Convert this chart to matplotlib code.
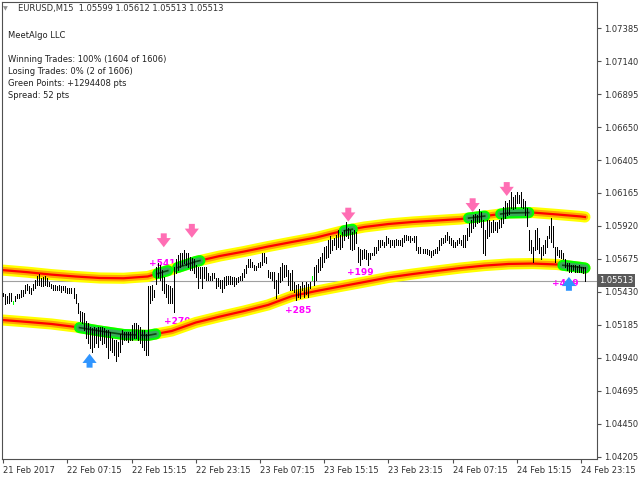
import numpy as np
import matplotlib
matplotlib.use("Agg")
import matplotlib.pyplot as plt
from matplotlib.transforms import blended_transform_factory

plt.rcParams["font.family"] = ["DejaVu Sans"]

# EURUSD M15 bars, 21 Feb 23:15 .. 24 Feb 23:45 (high / low)
highs = [
    1.0542, 1.0541, 1.0540, 1.0542, 1.0542, 1.0536, 1.0540, 1.0541, 1.0541, 1.0544,
    1.0544, 1.0548, 1.0549, 1.0547, 1.0546, 1.0549, 1.0552, 1.0555, 1.0556, 1.0553,
    1.0554, 1.0555, 1.0553, 1.0550, 1.0549, 1.0548, 1.0548, 1.0547, 1.0548, 1.0547,
    1.0547, 1.0547, 1.0546, 1.0546, 1.0546, 1.0546, 1.0541, 1.0535, 1.0529, 1.0528,
    1.0527, 1.0521, 1.0520, 1.0517, 1.0516, 1.0517, 1.0516, 1.0517, 1.0517, 1.0517,
    1.0516, 1.0515, 1.0515, 1.0513, 1.0509, 1.0507, 1.0507, 1.0506, 1.0512, 1.0515,
    1.0513, 1.0513, 1.0513, 1.0513, 1.0518, 1.0520, 1.0520, 1.0518, 1.0517, 1.0515,
    1.0515, 1.0512, 1.0547, 1.0547, 1.0548, 1.0544, 1.0561, 1.0564, 1.0563, 1.0559,
    1.0554, 1.0549, 1.0548, 1.0547, 1.0546, 1.0561, 1.0567, 1.0570, 1.0572, 1.0572,
    1.0574, 1.0572, 1.0572, 1.0569, 1.0568, 1.0567, 1.0563, 1.0561, 1.0561, 1.0561,
    1.0561, 1.0561, 1.0557, 1.0555, 1.0557, 1.0557, 1.0553, 1.0553, 1.0552, 1.0552,
    1.0554, 1.0555, 1.0555, 1.0555, 1.0554, 1.0554, 1.0553, 1.0554, 1.0555, 1.0557,
    1.0560, 1.0563, 1.0567, 1.0567, 1.0565, 1.0563, 1.0562, 1.0564, 1.0565, 1.0572,
    1.0572, 1.0569, 1.0559, 1.0558, 1.0558, 1.0558, 1.0552, 1.0557, 1.0561, 1.0564,
    1.0563, 1.0563, 1.0559, 1.0557, 1.0559, 1.0550, 1.0548, 1.0549, 1.0547, 1.0550,
    1.0548, 1.0550, 1.0549, 1.0550, 1.0555, 1.0561, 1.0563, 1.0567, 1.0569, 1.0572,
    1.0576, 1.0577, 1.0581, 1.0584, 1.0581, 1.0583, 1.0585, 1.0589, 1.0585, 1.0587,
    1.0589, 1.0595, 1.0590, 1.0589, 1.0587, 1.0589, 1.0587, 1.0576, 1.0575, 1.0574,
    1.0575, 1.0574, 1.0572, 1.0572, 1.0572, 1.0576, 1.0576, 1.0581, 1.0581, 1.0581,
    1.0580, 1.0584, 1.0583, 1.0581, 1.0581, 1.0581, 1.0582, 1.0581, 1.0581, 1.0583,
    1.0585, 1.0585, 1.0584, 1.0584, 1.0583, 1.0584, 1.0584, 1.0576, 1.0576, 1.0575,
    1.0575, 1.0575, 1.0574, 1.0573, 1.0574, 1.0575, 1.0576, 1.0581, 1.0583, 1.0583,
    1.0585, 1.0587, 1.0584, 1.0583, 1.0581, 1.0580, 1.0581, 1.0583, 1.0581, 1.0585,
    1.0585, 1.0590, 1.0594, 1.0596, 1.0600, 1.0601, 1.0600, 1.0604, 1.0602, 1.0596,
    1.0589, 1.0596, 1.0596, 1.0595, 1.0596, 1.0595, 1.0595, 1.0596, 1.0598, 1.0606,
    1.0610, 1.0609, 1.0611, 1.0617, 1.0613, 1.0615, 1.0617, 1.0615, 1.0617, 1.0612,
    1.0610, 1.0605, 1.0589, 1.0581, 1.0576, 1.0589, 1.0590, 1.0583, 1.0576, 1.0578,
    1.0581, 1.0584, 1.0592, 1.0598, 1.0592, 1.0576, 1.0576, 1.0574, 1.0574, 1.0572,
    1.0567, 1.0564, 1.0564, 1.0563, 1.0563, 1.0563, 1.0562, 1.0563, 1.0561, 1.0561,
    1.0561,
]
lows = [
    1.0540, 1.0534, 1.0535, 1.0535, 1.0536, 1.0534, 1.0536, 1.0538, 1.0538, 1.0539,
    1.0540, 1.0542, 1.0544, 1.0542, 1.0541, 1.0544, 1.0546, 1.0548, 1.0548, 1.0547,
    1.0547, 1.0548, 1.0547, 1.0547, 1.0546, 1.0544, 1.0544, 1.0544, 1.0544, 1.0543,
    1.0544, 1.0543, 1.0542, 1.0542, 1.0542, 1.0538, 1.0535, 1.0527, 1.0521, 1.0520,
    1.0515, 1.0509, 1.0505, 1.0501, 1.0498, 1.0502, 1.0505, 1.0502, 1.0507, 1.0504,
    1.0505, 1.0502, 1.0494, 1.0500, 1.0498, 1.0496, 1.0492, 1.0495, 1.0498, 1.0504,
    1.0507, 1.0507, 1.0506, 1.0507, 1.0507, 1.0509, 1.0509, 1.0507, 1.0505, 1.0502,
    1.0500, 1.0496, 1.0496, 1.0535, 1.0537, 1.0539, 1.0549, 1.0554, 1.0552, 1.0544,
    1.0542, 1.0539, 1.0535, 1.0535, 1.0535, 1.0528, 1.0557, 1.0559, 1.0561, 1.0563,
    1.0564, 1.0563, 1.0561, 1.0559, 1.0559, 1.0557, 1.0554, 1.0546, 1.0553, 1.0546,
    1.0553, 1.0552, 1.0552, 1.0552, 1.0552, 1.0553, 1.0546, 1.0547, 1.0546, 1.0543,
    1.0546, 1.0548, 1.0549, 1.0549, 1.0549, 1.0547, 1.0549, 1.0550, 1.0552, 1.0552,
    1.0554, 1.0557, 1.0561, 1.0561, 1.0561, 1.0559, 1.0559, 1.0561, 1.0561, 1.0563,
    1.0565, 1.0564, 1.0554, 1.0553, 1.0552, 1.0546, 1.0538, 1.0542, 1.0550, 1.0552,
    1.0554, 1.0555, 1.0548, 1.0544, 1.0544, 1.0543, 1.0537, 1.0539, 1.0538, 1.0544,
    1.0539, 1.0541, 1.0539, 1.0546, 1.0552, 1.0548, 1.0552, 1.0558, 1.0559, 1.0561,
    1.0565, 1.0568, 1.0569, 1.0572, 1.0574, 1.0578, 1.0575, 1.0576, 1.0575, 1.0576,
    1.0581, 1.0584, 1.0583, 1.0575, 1.0574, 1.0575, 1.0579, 1.0565, 1.0563, 1.0567,
    1.0568, 1.0567, 1.0563, 1.0567, 1.0570, 1.0570, 1.0572, 1.0574, 1.0576, 1.0578,
    1.0576, 1.0578, 1.0579, 1.0576, 1.0578, 1.0576, 1.0578, 1.0578, 1.0578, 1.0577,
    1.0580, 1.0581, 1.0581, 1.0580, 1.0581, 1.0580, 1.0574, 1.0572, 1.0572, 1.0572,
    1.0572, 1.0571, 1.0570, 1.0569, 1.0570, 1.0572, 1.0572, 1.0574, 1.0578, 1.0579,
    1.0580, 1.0581, 1.0579, 1.0578, 1.0576, 1.0576, 1.0578, 1.0579, 1.0578, 1.0576,
    1.0576, 1.0581, 1.0584, 1.0587, 1.0590, 1.0592, 1.0594, 1.0595, 1.0591, 1.0572,
    1.0570, 1.0583, 1.0584, 1.0587, 1.0587, 1.0589, 1.0587, 1.0590, 1.0591, 1.0594,
    1.0598, 1.0600, 1.0601, 1.0605, 1.0604, 1.0605, 1.0609, 1.0609, 1.0606, 1.0605,
    1.0600, 1.0592, 1.0574, 1.0572, 1.0565, 1.0574, 1.0575, 1.0572, 1.0567, 1.0570,
    1.0572, 1.0576, 1.0583, 1.0580, 1.0576, 1.0565, 1.0570, 1.0569, 1.0568, 1.0567,
    1.0561, 1.0559, 1.0558, 1.0558, 1.0559, 1.0558, 1.0558, 1.0558, 1.0558, 1.0557,
    1.0551,
]
green_bars = [5, 154]

# channel bands, sampled every 12 bars
band_idx = [0, 12, 24, 36, 48, 60, 72, 84, 96, 108, 120, 132, 144, 156, 168,
            180, 192, 204, 216, 228, 240, 252, 264, 276, 288, 290]
upper_band = [1.05590, 1.05575, 1.05557, 1.05543, 1.05532, 1.05530, 1.05543, 1.05595,
              1.05654, 1.05695, 1.05728, 1.05765, 1.05799, 1.05832, 1.05877, 1.05910,
              1.05932, 1.05947, 1.05958, 1.05969, 1.05991, 1.06014, 1.06017, 1.06003,
              1.05988, 1.05984]
lower_band = [1.05220, 1.05206, 1.05191, 1.05169, 1.05139, 1.05113, 1.05106, 1.05139,
              1.05202, 1.05246, 1.05287, 1.05332, 1.05398, 1.05435, 1.05469, 1.05502,
              1.05536, 1.05561, 1.05584, 1.05606, 1.05624, 1.05636, 1.05639, 1.05632,
              1.05610, 1.05606]
# bar ranges where price touched the band
upper_touch = [(77, 82), (87, 98), (170, 174), (232, 240), (248, 262)]
lower_touch = [(38, 67), (69, 76), (279, 290)]

sell_idx = [80, 94, 172, 234, 251]
sell_price = [1.0576, 1.0583, 1.0595, 1.0602, 1.0614]
buy_idx = [43, 282]
buy_price = [1.0497, 1.0554]

profit_text = ["+541", "+279", "+285", "+199", "+419"]
profit_idx = [79, 87, 147, 178, 280]
profit_price = [1.0564, 1.0521, 1.0529, 1.0557, 1.0549]

last_price = 1.05513
price_ticks = [1.07385, 1.07140, 1.06895, 1.06650, 1.06405, 1.06165, 1.05920,
               1.05675, 1.05430, 1.05185, 1.04940, 1.04695, 1.04450, 1.04205]
time_idx = [0, 32, 64, 96, 128, 160, 192, 224, 256, 288]
time_labels = ["21 Feb 2017", "22 Feb 07:15", "22 Feb 15:15", "22 Feb 23:15",
               "23 Feb 07:15", "23 Feb 15:15", "23 Feb 23:15", "24 Feb 07:15",
               "24 Feb 15:15", "24 Feb 23:15"]

fig = plt.figure(figsize=(6.4, 4.8), dpi=100)
ax = fig.add_axes([2 / 640, 21 / 480, 595 / 640, 457 / 480])
ax.set_xlim(-0.65, 296)
ax.set_ylim(1.04190, 1.07578)

x = np.arange(len(highs))
bar_colors = ["#00ff00" if i in green_bars else "black" for i in x]
ax.vlines(x, lows, highs, colors=bar_colors, lw=0.5, antialiased=False, zorder=4)

for band in (upper_band, lower_band):
    ax.plot(band_idx, band, color="#ffff00", lw=8.0, solid_capstyle="round", zorder=2)
    ax.plot(band_idx, band, color="#ffa500", lw=4.6, solid_capstyle="round", zorder=2)
    ax.plot(band_idx, band, color="#ff0000", lw=1.6, zorder=2)

for band, touches in ((upper_band, upper_touch), (lower_band, lower_touch)):
    for a, b in touches:
        xs = np.arange(a, b + 1)
        ys = np.interp(xs, band_idx, band)
        ax.plot(xs, ys, color="#00ff00", lw=8.0, solid_capstyle="round", zorder=3)
        ax.plot(xs, ys, color="#3aa85a", lw=4.8, solid_capstyle="round", zorder=3)
        ax.plot(xs, ys, color="#0b4a12", lw=1.2, zorder=3)

ax.axhline(last_price, color="#a0a0a0", lw=0.8, zorder=1)

arrow_style = "simple,head_length=0.55,head_width=0.85,tail_width=0.36"
for i, p in zip(sell_idx, sell_price):
    ax.annotate("", xy=(i, p), xytext=(0, 10), textcoords="offset points",
                arrowprops=dict(arrowstyle=arrow_style, mutation_scale=12,
                                color="#ff6eb4", lw=0, shrinkA=0, shrinkB=0), zorder=5)
for i, p in zip(buy_idx, buy_price):
    ax.annotate("", xy=(i, p), xytext=(0, -10), textcoords="offset points",
                arrowprops=dict(arrowstyle=arrow_style, mutation_scale=12,
                                color="#2f95ff", lw=0, shrinkA=0, shrinkB=0), zorder=5)

for t, i, p in zip(profit_text, profit_idx, profit_price):
    ax.text(i, p, t, color="#ff00ff", fontsize=6.5, fontweight="bold",
            ha="center", va="center", zorder=1)

# axes styling
for s in ax.spines.values():
    s.set_color("#505050")
    s.set_linewidth(0.8)
ax.yaxis.tick_right()
ax.set_yticks(price_ticks)
ax.set_yticklabels([f"{v:.5f}" for v in price_ticks])
ax.set_xticks(time_idx)
ax.set_xticklabels(time_labels, ha="left")
ax.tick_params(axis="both", direction="out", length=3, width=0.8, color="#505050",
               labelsize=6, labelcolor="#303030", pad=2)

trans = blended_transform_factory(ax.transAxes, ax.transData)
ax.text(1.003, last_price, f"{last_price:.5f}", transform=trans, color="white",
        fontsize=6, ha="left", va="center", zorder=6,
        bbox=dict(facecolor="#5a5a5a", edgecolor="none", pad=1.6))

# header text
fig.text(3 / 640, 1 - 9 / 480, "\u25bc", color="#909090", fontsize=4.5, va="center")
fig.text(18 / 640, 1 - 9 / 480, "EURUSD,M15  1.05599 1.05612 1.05513 1.05513",
         color="#303030", fontsize=6, va="center")
info = ["MeetAlgo LLC", "", "Winning Trades: 100% (1604 of 1606)",
        "Losing Trades: 0% (2 of 1606)", "Green Points: +1294408 pts", "Spread: 52 pts"]
info_y = [35, 0, 59, 72, 84, 96]
for t, y in zip(info, info_y):
    if t:
        fig.text(8 / 640, 1 - y / 480, t, color="#202020", fontsize=6, va="center")

fig.savefig("out.png", dpi=100, facecolor="white")
